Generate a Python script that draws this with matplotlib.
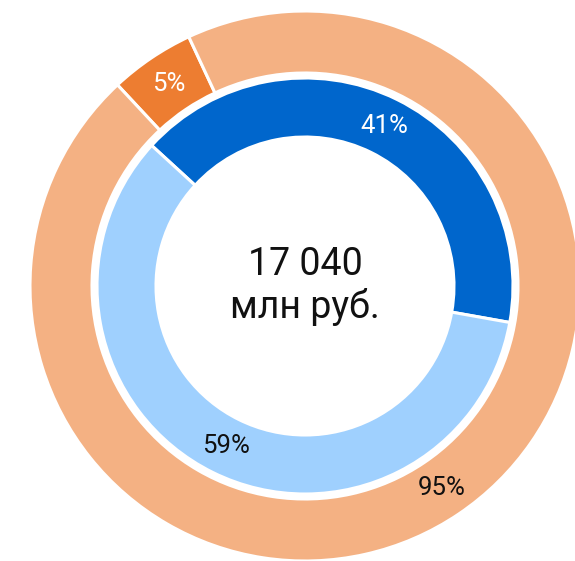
import matplotlib
matplotlib.use("Agg")
import matplotlib.pyplot as plt

plt.rcParams["font.family"] = ["Roboto", "DejaVu Sans"]

# data
inner_labels = ["group A", "group B"]
inner_values = [41, 59]
outer_labels = ["part small", "part large"]
outer_values = [5, 95]
total_text = "17 040\nмлн руб."

# palette
INNER_COLORS = ["#0066cc", "#9fd0fe"]
OUTER_COLORS = ["#ed7d31", "#f4b183"]
INNER_TXT = ["white", "#111111"]
OUTER_TXT = ["white", "#111111"]

W, H = 575, 561
CX, CY = 305, H - 286          # ring centre in pixel coords
R_OUT, W_OUT = 275, 62         # outer ring
R_IN, W_IN = 208, 59           # inner ring

fig = plt.figure(figsize=(W / 100, H / 100), dpi=100)
ax = fig.add_axes([0, 0, 1, 1])

wedge_kw = dict(edgecolor="white", linewidth=2.2)

_, _, out_txt = ax.pie(outer_values, colors=OUTER_COLORS, startangle=133,
                       counterclock=False, center=(CX, CY), radius=R_OUT,
                       wedgeprops=dict(width=W_OUT, **wedge_kw),
                       autopct="%.0f%%", pctdistance=1 - W_OUT / 2 / R_OUT,
                       textprops=dict(fontsize=18.5))
_, _, in_txt = ax.pie(inner_values, colors=INNER_COLORS, startangle=137.5,
                      counterclock=False, center=(CX, CY), radius=R_IN,
                      wedgeprops=dict(width=W_IN, **wedge_kw),
                      autopct="%.0f%%", pctdistance=1 - W_IN / 2 / R_IN,
                      textprops=dict(fontsize=18.5))

for t, c in zip(out_txt, OUTER_TXT):
    t.set_color(c)
for t, c in zip(in_txt, INNER_TXT):
    t.set_color(c)

ax.text(CX, CY, total_text, ha="center", va="center", fontsize=27,
        color="#111111", linespacing=1.15)

ax.set_xlim(0, W)
ax.set_ylim(0, H)
ax.set_aspect("equal")
ax.axis("off")

fig.savefig("out.png", dpi=100, facecolor="white")
